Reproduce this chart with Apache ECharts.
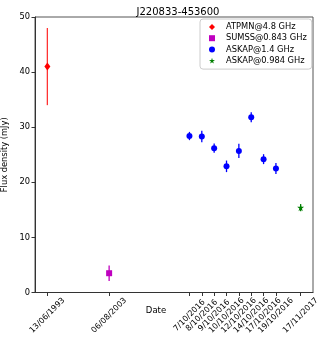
<!DOCTYPE html>
<html>
<head>
<meta charset="utf-8">
<script src="https://cdn.jsdelivr.net/npm/echarts@6/dist/echarts.min.js"></script>
<style>
  html, body { margin: 0; padding: 0; background: #fff; }
  #chart { width: 325px; height: 341px; }
</style>
</head>
<body>
<div id="chart"></div>
<script>
// tick positions on the date axis and their labels
const tickPos = [0, 5, 11.5, 12.5, 13.5, 14.5, 15.5, 16.5, 17.5, 18.5, 20.5];
const tickLabels = ['13/06/1993', '06/08/2003', '7/10/2016', '8/10/2016', '9/10/2016',
    '10/10/2016', '12/10/2016', '14/10/2016', '17/10/2016', '19/10/2016', '17/11/2017'];

// ATPMN@4.8 GHz
const atpmnX = [0];
const atpmnY = [41];
const atpmnErr = [7];
// SUMSS@0.843 GHz
const sumssX = [5];
const sumssY = [3.5];
const sumssErr = [1.4];
// ASKAP@1.4 GHz
const askapX = [11.5, 12.5, 13.5, 14.5, 15.5, 16.5, 17.5, 18.5];
const askapY = [28.4, 28.3, 26.2, 22.9, 25.7, 31.8, 24.2, 22.5];
const askapErr = [0.75, 1.05, 0.85, 1.05, 1.3, 0.9, 0.9, 1.0];
// ASKAP@0.984 GHz
const askap2X = [20.5];
const askap2Y = [15.4];
const askap2Err = [0.65];

const starPath = 'path://M50,0 L61,35 L98,35 L68,57 L79,91 L50,70 L21,91 L32,57 L2,35 L39,35 Z';

function pts(xs, ys) {
    return xs.map((x, i) => [x, ys[i]]);
}
function errs(xs, ys, es) {
    return xs.map((x, i) => [x, ys[i] - es[i], ys[i] + es[i]]);
}

function errSeries(name, data, color) {
    return {
        type: 'custom',
        name: name + '-err',
        data: data,
        silent: true,
        z: 2,
        renderItem: function (params, api) {
            const lo = api.coord([api.value(0), api.value(1)]);
            const hi = api.coord([api.value(0), api.value(2)]);
            return {
                type: 'line',
                shape: { x1: lo[0], y1: lo[1], x2: hi[0], y2: hi[1] },
                style: { stroke: color, lineWidth: 1.3 }
            };
        }
    };
}

const font = 'DejaVu Sans';
const myChart = echarts.init(document.getElementById('chart'));

const option = {
    animation: false,
    textStyle: { fontFamily: font },
    title: {
        text: 'J220833-453600',
        left: 173,
        textAlign: 'center',
        top: 2,
        textStyle: { fontFamily: font, fontSize: 10, fontWeight: 'normal', color: '#000' }
    },
    grid: {
        left: 35, right: 12, top: 17, bottom: 48.5,
        outerBoundsMode: 'none',
        containLabel: false,
        show: true, borderColor: '#555', borderWidth: 1
    },
    legend: {
        orient: 'vertical',
        left: 200,
        top: 19,
        padding: [2.5, 5, 3, 9],
        itemGap: 0.2,
        itemWidth: 6,
        itemHeight: 6,
        borderColor: '#ccc',
        borderWidth: 1,
        borderRadius: 3,
        backgroundColor: '#fff',
        textStyle: { fontFamily: font, fontSize: 8.3, lineHeight: 11, color: '#000', padding: [0, 0, 0, 6] },
        data: ['ATPMN@4.8 GHz', 'SUMSS@0.843 GHz', 'ASKAP@1.4 GHz', 'ASKAP@0.984 GHz']
    },
    xAxis: {
        type: 'value',
        min: -1,
        max: 21.5,
        splitLine: { show: false },
        axisLine: { onZero: false, lineStyle: { color: '#333' } },
        axisTick: { customValues: tickPos, length: 3.5, lineStyle: { color: '#333' } },
        axisLabel: {
            customValues: tickPos,
            rotate: 45,
            align: 'center',
            verticalAlign: 'middle',
            fontSize: 8,
            color: '#000',
            margin: 23,
            formatter: function (v) {
                const i = tickPos.indexOf(v);
                return i >= 0 ? tickLabels[i] : '';
            }
        }
    },
    yAxis: {
        type: 'value',
        min: 0,
        max: 50,
        interval: 10,
        name: 'Flux density (mJy)',
        nameLocation: 'middle',
        nameGap: 19,
        nameTextStyle: { fontFamily: font, fontSize: 8.3, color: '#000' },
        splitLine: { show: false },
        axisLine: { show: true, onZero: false, lineStyle: { color: '#333' } },
        axisTick: { show: true, length: 3.5, lineStyle: { color: '#333' } },
        axisLabel: { fontSize: 8.3, color: '#000', margin: 5 }
    },
    graphic: [{
        type: 'text',
        x: 156,
        y: 311,
        style: {
            text: 'Date', font: '8.5px "DejaVu Sans"', fill: '#000',
            textAlign: 'center', textVerticalAlign: 'middle'
        }
    }],
    series: [
        errSeries('ATPMN@4.8 GHz', errs(atpmnX, atpmnY, atpmnErr), 'rgba(255,0,0,0.8)'),
        errSeries('SUMSS@0.843 GHz', errs(sumssX, sumssY, sumssErr), '#c000c0'),
        errSeries('ASKAP@1.4 GHz', errs(askapX, askapY, askapErr), '#0000ff'),
        errSeries('ASKAP@0.984 GHz', errs(askap2X, askap2Y, askap2Err), '#007f00'),
        {
            type: 'scatter', name: 'ATPMN@4.8 GHz', data: pts(atpmnX, atpmnY),
            symbol: 'diamond', symbolSize: [6, 8], itemStyle: { color: '#ff0000', opacity: 1 }, z: 3
        },
        {
            type: 'scatter', name: 'SUMSS@0.843 GHz', data: pts(sumssX, sumssY),
            symbol: 'rect', symbolSize: 6, itemStyle: { color: '#bf00bf', opacity: 1 }, z: 3
        },
        {
            type: 'scatter', name: 'ASKAP@1.4 GHz', data: pts(askapX, askapY),
            symbol: 'circle', symbolSize: 6, itemStyle: { color: '#0000ff', opacity: 1 }, z: 3
        },
        {
            type: 'scatter', name: 'ASKAP@0.984 GHz', data: pts(askap2X, askap2Y),
            symbol: starPath, symbolSize: 7, itemStyle: { color: '#007f00', opacity: 1 }, z: 3
        }
    ]
};

myChart.setOption(option);
</script>
</body>
</html>
